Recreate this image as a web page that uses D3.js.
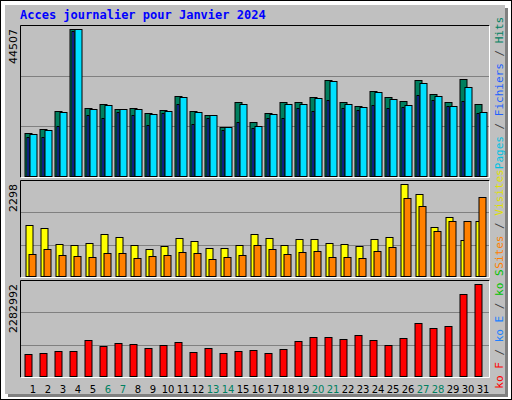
<!DOCTYPE html>
<html><head><meta charset="utf-8">
<script src="https://cdn.jsdelivr.net/npm/d3@7"></script>
<style>body{margin:0;background:#fff}</style>
</head><body><div id="chart"></div>
<script>
// data
const days = d3.range(1, 32).map(String);
const weekend = ["6","7","13","14","20","21","27","28"];
const hits     = [13320,14530,19980,44507,20890,22100,20590,20890,19380,20290,24220,19980,18770,15140,22410,16650,19380,22410,22410,23920,29070,22410,21500,25740,23920,22710,29070,24830,22410,29370,22100];
const fichiers = [13020,14230,19680,44507,20590,21800,20590,20590,19080,19980,23920,19680,18770,15140,22100,15450,19080,22100,22100,23620,28770,22100,21200,25430,23310,21800,28160,24220,21500,26950,19680];
const pages    = [12110,12110,15440,43900,18770,17870,19680,18770,15740,19380,22100,16050,17870,14230,16650,14840,17870,17870,20890,19980,23010,20890,20290,21800,20890,21200,24530,23010,21500,22710,19380];
const visites  = [1285,1211,816,791,840,1063,989,791,692,766,964,890,717,717,791,1063,964,791,939,939,840,816,766,939,989,2298,2052,1236,1483,915,1384];
const sites    = [569,692,544,519,494,593,593,470,519,544,618,593,445,494,544,791,692,569,618,643,494,494,470,643,742,1953,1755,1137,1384,1384,1978];
const kb       = [570768,595584,645216,645216,918192,769296,843744,818928,719664,794112,868560,620400,719664,595584,645216,670032,595584,694848,893376,992640,992640,943008,1042272,918192,794112,967824,1315248,1191168,1240800,2034912,2282992];

const W = 512, H = 400;
const svg = d3.select("#chart").append("svg").attr("width", W).attr("height", H)
  .style("font-family", "DejaVu Sans Mono, monospace");

// background
svg.append("rect").attr("x", 0.5).attr("y", 0.5).attr("width", W - 1).attr("height", H - 1)
  .attr("fill", "#fff").attr("stroke", "#000");
svg.append("rect").attr("x", 8).attr("y", 8).attr("width", 500).attr("height", 389).attr("fill", "#808080");
svg.append("rect").attr("x", 5).attr("y", 5).attr("width", 500).attr("height", 389).attr("fill", "#c0c0c0");

svg.append("text").attr("x", 20).attr("y", 19).attr("fill", "#0000ff")
  .style("font-weight", "bold").style("font-size", "12px").text("Acces journalier pour Janvier 2024");

const x = d3.scaleBand().domain(days).range([22.5, 22.5 + 31 * 15]);

function panel(top, bottom, maxVal, label) {
  const y = d3.scaleLinear().domain([0, maxVal]).range([bottom, top]);
  svg.append("rect").attr("x", 20.5).attr("y", top + 0.5).attr("width", 469).attr("height", bottom - top)
    .attr("fill", "#c0c0c0");
  [1 / 3, 2 / 3].forEach(f => {
    svg.append("line").attr("x1", 21).attr("x2", 489)
      .attr("y1", Math.round(y(maxVal * f)) + 0.5).attr("y2", Math.round(y(maxVal * f)) + 0.5)
      .attr("stroke", "#808080");
  });
  svg.append("path").attr("d", `M20.5,${bottom + 0.5}V${top + 0.5}H489.5`).attr("fill", "none").attr("stroke", "#000");
  svg.append("path").attr("d", `M489.5,${top + 0.5}V${bottom + 0.5}H20.5`).attr("fill", "none").attr("stroke", "#fff");
  svg.append("text").attr("transform", `translate(17,${top + 4}) rotate(-90)`)
    .attr("text-anchor", "end").style("font-size", "11px").style("font-family", "DejaVu Sans, sans-serif")
    .text(label);
  return y;
}

function bars(y, vals, off, w, color) {
  svg.append("g").selectAll("rect").data(vals).enter().append("rect")
    .attr("x", (d, i) => x(days[i]) + off + 0.5)
    .attr("y", d => Math.round(y(d)) + 0.5)
    .attr("width", w)
    .attr("height", d => y(0) - Math.round(y(d)) - 1)
    .attr("fill", color).attr("stroke", "#000");
}

// top panel
const y1 = panel(25, 177, 44507 * 152 / 148, "44507");
bars(y1, hits, 2, 7, "#007f5f");
bars(y1, pages, 4, 2, "#2040ff");
bars(y1, fichiers, 7, 7, "#00e0ff");

// middle panel
const y2 = panel(180, 277, 2298 * 97 / 93, "2298");
bars(y2, visites, 3, 7, "#ffff00");
bars(y2, sites, 6, 7, "#ff8000");

// bottom panel
const y3 = panel(280, 377, 2282992 * 97 / 93, "2282992");
bars(y3, kb, 2, 7, "#ff0000");

// day axis
svg.append("g").selectAll("text").data(days).enter().append("text")
  .attr("x", d => x(d) + 10.5).attr("y", 393).attr("text-anchor", "middle")
  .style("font-family", "DejaVu Sans, sans-serif").style("font-size", "10px")
  .attr("fill", d => weekend.includes(d) ? "#008060" : "#000").text(d => d);

// right legends, reading bottom to top
function legend(cy, parts) {
  const t = svg.append("text").attr("transform", `translate(503,${cy}) rotate(-90)`)
    .attr("text-anchor", "middle").style("font-size", "11px");
  parts.forEach(p => t.append("tspan").attr("fill", p[1]).text(p[0]));
}
legend(93, [["Pages", "#00c0e0"], [" / ", "#404040"], ["Fichiers", "#2060ff"], [" / ", "#404040"], ["Hits", "#008060"]]);
legend(219, [["Sites", "#ff8000"], [" / ", "#404040"], ["Visites", "#e0e000"]]);
legend(329, [["ko F", "#ff0000"], [" / ", "#404040"], ["ko E", "#2080ff"], [" / ", "#404040"], ["ko S", "#00c000"]]);
</script>
</body></html>
